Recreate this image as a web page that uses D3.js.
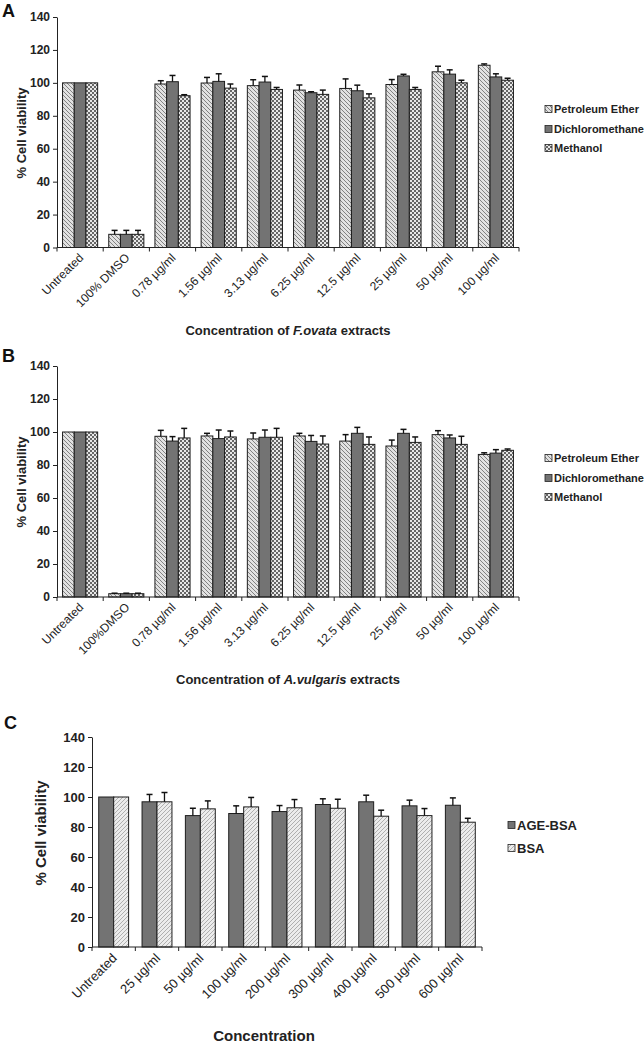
<!DOCTYPE html>
<html><head><meta charset="utf-8">
<script src="https://cdn.jsdelivr.net/npm/d3@7"></script>
<style>body{margin:0;background:#fff}svg{display:block;font-family:"Liberation Sans",Arial,sans-serif}</style>
</head><body>
<svg id="c" width="644" height="1044"></svg>
<script>
// ---------- DATA ----------
const catsA = ["Untreated","100% DMSO","0.78 µg/ml","1.56 µg/ml","3.13 µg/ml","6.25 µg/ml","12.5 µg/ml","25 µg/ml","50 µg/ml","100 µg/ml"];
const peA    = [100, 8, 99.3, 99.9, 98.3, 95.6, 96.6, 99.0, 106.7, 110.7];
const peAErr = [0, 2.4, 2.0, 3.4, 3.6, 3.1, 5.8, 3.0, 3.4, 0.8];
const dcmA    = [100, 8, 100.7, 100.9, 100.5, 94.0, 95.2, 104.2, 105.3, 103.6];
const dcmAErr = [0, 2.4, 3.8, 4.6, 3.4, 0.6, 3.4, 1.0, 2.6, 1.9];
const meA    = [100, 8, 92.2, 96.8, 96.0, 93.0, 90.9, 96.0, 100.0, 101.6];
const meAErr = [0, 2.4, 0.6, 2.5, 1.2, 2.6, 2.4, 1.2, 1.6, 1.2];

const catsB = ["Untreated","100%DMSO","0.78 µg/ml","1.56 µg/ml","3.13 µg/ml","6.25 µg/ml","12.5 µg/ml","25 µg/ml","50 µg/ml","100 µg/ml"];
const peB    = [100, 2, 97.4, 97.6, 95.8, 97.6, 94.5, 91.5, 98.4, 86.4];
const peBErr = [0, 0.3, 3.6, 1.6, 3.6, 1.6, 3.9, 3.6, 2.4, 1.0];
const dcmB    = [100, 2, 94.5, 96.0, 96.8, 94.3, 99.2, 99.2, 96.4, 87.2];
const dcmBErr = [0, 0.3, 2.7, 5.2, 4.4, 3.6, 3.6, 2.4, 1.8, 2.1];
const meB    = [100, 2, 96.4, 97.0, 96.8, 92.7, 92.5, 93.7, 92.5, 88.9];
const meBErr = [0, 0.3, 5.8, 3.6, 5.4, 4.9, 4.5, 3.3, 4.9, 0.8];

const catsC = ["Untreated","25 µg/ml","50 µg/ml","100 µg/ml","200 µg/ml","300 µg/ml","400 µg/ml","500 µg/ml","600 µg/ml"];
const ageC    = [100, 96.8, 87.6, 89.0, 90.3, 95.0, 96.8, 94.1, 94.5];
const ageCErr = [0, 4.9, 4.9, 5.1, 4.0, 3.8, 4.4, 3.8, 4.9];
const bsaC    = [100, 96.8, 92.1, 93.4, 92.8, 92.5, 87.2, 87.6, 83.2];
const bsaCErr = [0, 6.2, 5.3, 6.3, 5.5, 6.0, 4.0, 4.7, 2.6];

const yTicks = [0, 20, 40, 60, 80, 100, 120, 140];
const seriesNames3 = ["Petroleum Ether", "Dichloromethane", "Methanol"];
const seriesNamesC = ["AGE-BSA", "BSA"];

// ---------- DRAW ----------
const svg = d3.select("#c");
svg.append("rect").attr("width",644).attr("height",1044).attr("fill","#fff");
const defs = svg.append("defs");
// petroleum ether: light hatch "\"
const p1 = defs.append("pattern").attr("id","pe").attr("width",4).attr("height",4).attr("patternUnits","userSpaceOnUse");
p1.append("rect").attr("width",4).attr("height",4).attr("fill","#e2e2e2");
p1.append("path").attr("d","M0,0L4,4M-1,3L1,5M3,-1L5,1").attr("stroke","#777").attr("stroke-width",0.9);
// methanol: checker
const p2 = defs.append("pattern").attr("id","me").attr("width",4).attr("height",4).attr("patternUnits","userSpaceOnUse");
p2.append("rect").attr("width",4).attr("height",4).attr("fill","#e8e8e8");
p2.append("rect").attr("width",2).attr("height",2).attr("fill","#666");
p2.append("rect").attr("x",2).attr("y",2).attr("width",2).attr("height",2).attr("fill","#666");
// BSA: light hatch "/"
const p3 = defs.append("pattern").attr("id","bsa").attr("width",4).attr("height",4).attr("patternUnits","userSpaceOnUse");
p3.append("rect").attr("width",4).attr("height",4).attr("fill","#ececec");
p3.append("path").attr("d","M0,4L4,0M-1,1L1,-1M3,5L5,3").attr("stroke","#a8a8a8").attr("stroke-width",0.9);

function panel(o){
  const g = svg.append("g");
  const x = d3.scaleBand().domain(o.cats).range([o.x0, o.x1]).paddingInner(o.pad).paddingOuter(o.pad/2);
  const xs = d3.scaleBand().domain(o.series.map(s=>s.name)).range([0, x.bandwidth()]);
  const y = d3.scaleLinear().domain([0,140]).range([o.yB, o.yT]);

  // bars
  o.series.forEach(s=>{
    g.selectAll(null).data(o.cats).enter().append("rect")
      .attr("x", (c)=>x(c)+xs(s.name))
      .attr("y", (c,i)=>y(s.values[i]))
      .attr("width", xs.bandwidth())
      .attr("height", (c,i)=>y(0)-y(s.values[i]))
      .attr("fill", s.fill).attr("stroke","#1e1e1e").attr("stroke-width",1);
  });
  // error bars
  o.series.forEach(s=>{
    o.cats.forEach((c,i)=>{
      const e = s.err[i]; if(!e) return;
      const cx = x(c)+xs(s.name)+xs.bandwidth()/2;
      g.append("line").attr("x1",cx).attr("x2",cx).attr("y1",y(s.values[i])).attr("y2",y(s.values[i]+e)).attr("stroke","#111").attr("stroke-width",1.3);
      g.append("line").attr("x1",cx-3).attr("x2",cx+3).attr("y1",y(s.values[i]+e)).attr("y2",y(s.values[i]+e)).attr("stroke","#111").attr("stroke-width",1.5);
    });
  });
  // y axis
  const ya = g.append("g").attr("transform",`translate(${o.x0},0)`)
    .call(d3.axisLeft(y).tickValues(yTicks).tickSize(4).tickPadding(3).tickSizeOuter(0));
  ya.select(".domain").attr("stroke","#222");
  ya.selectAll(".tick line").attr("stroke","#222");
  ya.selectAll("text").attr("font-size",o.tfs).attr("font-weight","bold").attr("fill","#222").attr("font-family","Liberation Sans, Arial, sans-serif");
  // x axis
  g.append("line").attr("x1",o.x0).attr("x2",o.x1).attr("y1",y(0)).attr("y2",y(0)).attr("stroke","#222");
  d3.range(o.cats.length+1).forEach(i=>{
    const xx = x.range()[0] + i*x.step();
    g.append("line").attr("x1",xx).attr("x2",xx).attr("y1",y(0)).attr("y2",y(0)+4).attr("stroke","#222");
  });
  o.cats.forEach(c=>{
    const cx = x(c)+x.bandwidth()/2 + o.ldx;
    g.append("text").attr("transform",`translate(${cx},${y(0)+o.ldy}) rotate(-45)`)
      .attr("text-anchor","end").attr("font-size",o.lfs).attr("fill","#222").text(c);
  });
  // y title
  g.append("text").attr("transform",`translate(${o.ytx},${o.yty}) rotate(-90)`).attr("text-anchor","middle")
    .attr("font-size",o.ytfs).attr("font-weight","bold").attr("fill","#222").text("% Cell viability");
  // x title
  const xt = g.append("text").attr("x",o.xtx).attr("y",o.xty).attr("text-anchor","middle")
    .attr("font-size",o.xtfs).attr("font-weight","bold").attr("fill","#222");
  o.xtitle.forEach(p=>xt.append("tspan").attr("font-style",p[1]?"italic":null).text(p[0]));
  // panel letter
  g.append("text").attr("x",o.lx).attr("y",o.ly).attr("font-size",18).attr("font-weight","bold").attr("fill","#111").text(o.letter);
  // legend
  o.series.forEach((s,i)=>{
    const ly = o.legY[i];
    g.append("rect").attr("x",o.legX).attr("y",ly-3.5).attr("width",7).attr("height",7).attr("fill",s.fill).attr("stroke","#222").attr("stroke-width",0.8);
    g.append("text").attr("x",o.legX+9).attr("y",ly).attr("dy","0.35em").attr("font-size",o.legfs).attr("font-weight","bold").attr("fill","#222").text(s.name);
  });
}

panel({cats:catsA, x0:57, x1:519, yT:17, yB:247.5, pad:0.24, tfs:12, lfs:12, ldx:4, ldy:11,
  series:[{name:seriesNames3[0],values:peA,err:peAErr,fill:"url(#pe)"},
          {name:seriesNames3[1],values:dcmA,err:dcmAErr,fill:"#737373"},
          {name:seriesNames3[2],values:meA,err:meAErr,fill:"url(#me)"}],
  ytx:26, yty:133, ytfs:13, xtx:288, xty:335, xtfs:13,
  xtitle:[["Concentration  of "],["F.ovata",true],[" extracts"]],
  lx:2, ly:17, letter:"A", legX:545, legY:[109,129,148], legfs:11});

panel({cats:catsB, x0:57, x1:519, yT:366, yB:597, pad:0.24, tfs:12, lfs:12, ldx:4, ldy:11,
  series:[{name:seriesNames3[0],values:peB,err:peBErr,fill:"url(#pe)"},
          {name:seriesNames3[1],values:dcmB,err:dcmBErr,fill:"#737373"},
          {name:seriesNames3[2],values:meB,err:meBErr,fill:"url(#me)"}],
  ytx:26, yty:482, ytfs:13, xtx:288, xty:684, xtfs:13,
  xtitle:[["Concentration  of "],["A.vulgaris",true],[" extracts"]],
  lx:2, ly:362, letter:"B", legX:545, legY:[458,478,497], legfs:11});

panel({cats:catsC, x0:92, x1:482, yT:737, yB:947, pad:0.31, tfs:13, lfs:13, ldx:4, ldy:12,
  series:[{name:seriesNamesC[0],values:ageC,err:ageCErr,fill:"#737373"},
          {name:seriesNamesC[1],values:bsaC,err:bsaCErr,fill:"url(#bsa)"}],
  ytx:46, yty:833, ytfs:15, xtx:264, xty:1041, xtfs:15,
  xtitle:[["Concentration"]],
  lx:4, ly:729, letter:"C", legX:508, legY:[825,848], legfs:13});
</script>
</body></html>
